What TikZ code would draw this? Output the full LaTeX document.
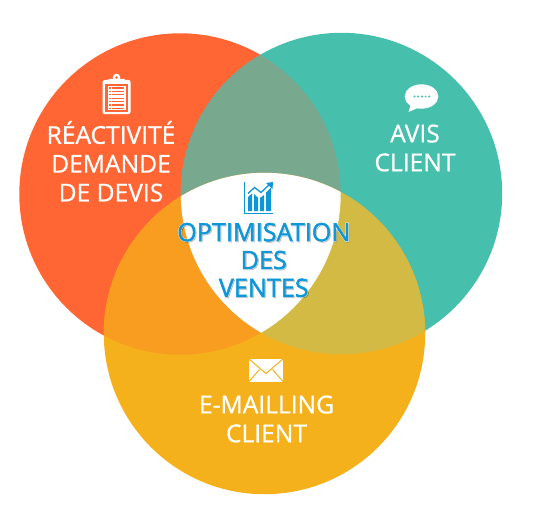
\documentclass[tikz,border=0pt]{standalone}
\usepackage{fontspec}
\setmainfont{Open Sans}
\definecolor{cred}{HTML}{FF6634}
\definecolor{cteal}{HTML}{46BFAD}
\definecolor{cyel}{HTML}{F4B11C}
\definecolor{credteal}{HTML}{78A98F}
\definecolor{credyel}{HTML}{F99D20}
\definecolor{ctealyel}{HTML}{D2BA45}
\definecolor{cblue}{HTML}{0F96D6}
\tikzset{
  lbl/.style={text=white,align=center,inner sep=0pt,font=\fontsize{24.6}{28.8}\selectfont\addfontfeature{FakeBold=0.8}},
  mid/.style={text=cblue,align=center,inner sep=0pt,font=\fontsize{25.2}{27.8}\selectfont\addfontfeature{FakeBold=1.8}},
  midhalo/.style={mid,text=white,font=\fontsize{25.2}{27.8}\selectfont\addfontfeature{FakeBold=4.5}},
  midshadow/.style={mid,text=black,opacity=.22},
}
\begin{document}
\begin{tikzpicture}[x=1pt,y=-1pt]
\useasboundingbox (0,0) rectangle (545,516);
\coordinate (R) at (180,194);
\coordinate (T) at (341.5,193.5);
\coordinate (Y) at (264.5,333.5);
\def\rad{160.7}
\fill[cred] (R) circle (\rad);
\fill[cteal] (T) circle (\rad);
\fill[cyel] (Y) circle (\rad);
\begin{scope}
  \clip (R) circle (\rad);
  \fill[credteal] (T) circle (\rad);
  \fill[credyel] (Y) circle (\rad);
\end{scope}
\begin{scope}
  \clip (T) circle (\rad);
  \fill[ctealyel] (Y) circle (\rad);
  \clip (R) circle (\rad);
  \fill[white] (Y) circle (\rad);
\end{scope}

% clipboard icon
\fill[white,rounded corners=2pt] (102.5,80) rectangle (130.5,114);
\fill[white] (116.5,77.5) circle (3.8);
\fill[white,rounded corners=1pt] (108,79) rectangle (125,85.5);
\fill[cred] (116.5,77.5) circle (1.3);
\fill[cred] (105,84) rectangle (128,111.5);
\fill[white] (107.5,85.8) rectangle (125.5,110);
\foreach \yy in {88,91.4,94.8,98.2,101.6,105,108.2}{
  \fill[cred] (109,\yy-0.6) rectangle (110.5,\yy+0.6);
  \fill[cred] (112,\yy-0.6) rectangle (124,\yy+0.6);
}
\node[lbl] (reactivite) at (111,161.3) {RÉACTIVITÉ\\DEMANDE\\DE DEVIS};

% speech bubble
\fill[white] (421.5,96.5) ellipse (16.8 and 12.2);
\fill[white] (411,104) -- (408.5,112) -- (420,107) -- cycle;
\foreach \xx in {414.5,418.2,421.9,425.6,429.3}{
  \fill[cteal] (\xx,96.5) circle (1.1);
}
\node[lbl] (avis) at (415,148) {AVIS\\CLIENT};

% envelope
\fill[white] (249,358.5) rectangle (283,382);
\draw[cyel,line width=1pt] (249,359) -- (266,373.5) -- (283,359);
\draw[cyel,line width=1pt] (249,381.5) -- (259.5,369.5);
\draw[cyel,line width=1pt] (283,381.5) -- (272.5,369.5);
\node[lbl] (email) at (266.5,419) {E-MAILLING\\CLIENT};

% chart icon
\fill[cblue] (244,182) rectangle (245,213);
\fill[cblue] (244,212.5) rectangle (272.5,213.5);
\fill[cblue] (248,197) -- (252,193.5) -- (252,211) -- (248,211) -- cycle;
\fill[cblue] (254,194) -- (258,198) -- (258,211) -- (254,211) -- cycle;
\fill[cblue] (260,198) -- (264,195) -- (264,211) -- (260,211) -- cycle;
\fill[cblue] (266,192.5) -- (271,187.5) -- (271,211) -- (266,211) -- cycle;
\draw[cblue,line width=1.3pt] (248,193.5) -- (254.5,187.5) -- (261,192.5) -- (270,184);
\fill[cblue] (273,182) -- (266,183) -- (272.5,189) -- cycle;

\node[midshadow] at (264.8,261) {OPTIMISATION\\DES\\VENTES};
\node[midhalo] at (263.8,260) {OPTIMISATION\\DES\\VENTES};
\node[mid] (optim) at (263.8,260) {OPTIMISATION\\DES\\VENTES};
\end{tikzpicture}
\end{document}
